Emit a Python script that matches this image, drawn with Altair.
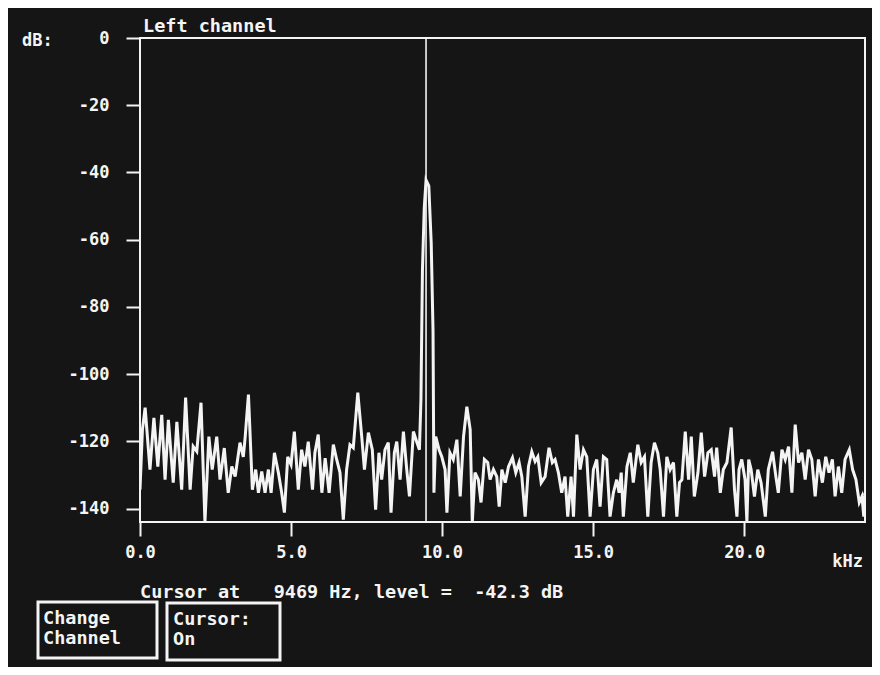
import altair as alt
import pandas as pd

# ---------------- data ----------------
freq_khz = [
    0.00, 0.08, 0.17, 0.33, 0.46, 0.59, 0.72, 0.83, 0.94, 1.10, 1.22, 1.38, 1.51, 1.66, 1.76, 1.88,
    2.02, 2.15, 2.28, 2.39, 2.54, 2.65, 2.79, 2.92, 3.04, 3.15, 3.31, 3.42, 3.48, 3.59, 3.72, 3.83,
    3.92, 4.03, 4.14, 4.25, 4.34, 4.45, 4.58, 4.69, 4.78, 4.89, 5.00, 5.11, 5.24, 5.35, 5.46, 5.57,
    5.71, 5.79, 5.90, 6.02, 6.13, 6.26, 6.40, 6.51, 6.62, 6.73, 6.84, 6.95, 7.06, 7.21, 7.34, 7.43,
    7.56, 7.69, 7.80, 7.91,
    8.00, 8.11, 8.22, 8.31, 8.42, 8.50, 8.61, 8.72, 8.83, 8.92, 9.05, 9.16, 9.25, 9.30, 9.35, 9.41,
    9.469, 9.56, 9.64, 9.70, 9.73, 9.79, 9.90, 9.99, 10.10, 10.16, 10.26, 10.37, 10.49, 10.60, 10.71,
    10.82, 10.93, 11.00, 11.09, 11.20, 11.29, 11.40, 11.51, 11.59, 11.70, 11.81, 11.89,
    11.98, 12.09, 12.20, 12.33, 12.44, 12.55, 12.64, 12.75, 12.86, 12.97, 13.08, 13.17, 13.28, 13.41,
    13.54, 13.65, 13.74, 13.85, 13.96, 14.07, 14.16, 14.27, 14.35, 14.46, 14.57, 14.68, 14.79, 14.90,
    15.01, 15.12, 15.23, 15.34, 15.45, 15.56, 15.67, 15.78, 15.86,
    15.93, 16.00, 16.12, 16.23, 16.33, 16.48, 16.59, 16.70, 16.81, 16.92, 17.03, 17.14, 17.22, 17.33,
    17.44, 17.55, 17.66, 17.77, 17.86, 17.94, 18.05, 18.16, 18.25, 18.35, 18.47, 18.58, 18.69, 18.80,
    18.91, 19.02, 19.09, 19.21, 19.31, 19.43, 19.57, 19.68, 19.76, 19.83,
    19.92, 20.03, 20.09, 20.15, 20.23, 20.34, 20.45, 20.56, 20.70, 20.80, 20.94, 21.05, 21.13, 21.25,
    21.36, 21.47, 21.58, 21.69, 21.80, 21.91, 22.02, 22.13, 22.24, 22.35, 22.46, 22.59, 22.70, 22.81,
    22.92, 23.01, 23.12, 23.23, 23.34, 23.48, 23.59, 23.70, 23.81, 23.90, 23.96, 24.00,
]

level_db = [
    -134.4, -116.5, -110.0, -128.4, -113.0, -127.5, -112.1, -131.4, -113.6, -132.3, -114.2, -134.4, -107.0, -134.4, -121.5, -123.0,
    -108.5, -144.0, -118.6, -128.4, -118.6, -131.4, -122.0, -135.3, -127.5, -130.5, -120.4, -124.6, -118.9, -106.1, -134.4, -128.4,
    -135.3, -129.0, -135.3, -128.4, -135.3, -123.4, -129.3, -135.3, -141.2, -124.6, -126.9, -117.1, -134.4, -122.5, -127.5, -120.1,
    -134.4, -123.4, -118.0, -135.3, -125.0, -135.3, -121.0, -125.4, -129.3, -143.3, -128.4, -121.0, -121.9, -105.5, -118.6, -128.4,
    -117.4, -122.5, -140.3, -123.4,
    -131.4, -122.5, -120.4, -141.2, -123.4, -120.1, -131.4, -117.1, -128.4, -136.4, -117.1, -120.1, -122.5, -107.6, -69.0, -50.5,
    -42.3, -44.0, -61.0, -87.0, -135.3, -118.6, -122.5, -124.6, -128.4, -141.2, -123.4, -125.4, -119.5, -136.4, -118.6,
    -109.7, -116.5, -144.0, -129.3, -131.4, -138.2, -125.4, -126.3, -131.4, -128.4, -130.5, -139.4,
    -128.4, -132.3, -127.5, -124.9, -129.3, -126.3, -130.5, -142.4, -127.5, -123.1, -126.0, -124.6, -132.3, -130.5,
    -121.9, -126.3, -125.4, -129.3, -135.3, -130.5, -142.4, -130.5, -142.4, -118.0, -128.4, -122.5, -124.6, -142.4,
    -128.4, -125.4, -139.4, -124.6, -125.4, -142.4, -135.3, -131.4, -135.3,
    -129.3, -142.4, -127.5, -123.4, -132.3, -121.0, -126.3, -124.6, -142.4, -126.3, -120.4, -123.4, -128.4, -142.4,
    -124.6, -128.4, -126.3, -142.4, -132.3, -131.4, -117.1, -131.4, -118.6, -136.4, -129.3, -117.4, -130.5, -123.4,
    -122.5, -130.5, -121.9, -135.3, -128.4, -126.3, -115.9, -134.4, -142.4, -128.4,
    -125.4, -131.4, -144.0, -125.4, -128.4, -136.4, -128.4, -132.3, -142.4, -128.4, -123.1, -130.5, -135.3, -122.5,
    -125.4, -121.6, -135.3, -115.0, -126.3, -123.4, -131.4, -122.5, -125.4, -136.4, -125.4, -132.3, -124.6, -129.3,
    -125.4, -136.4, -127.5, -135.3, -125.4, -122.5, -128.4, -131.4, -138.2, -136.4, -142.4, -135.3,
]

y_ticks = [0, -20, -40, -60, -80, -100, -120, -140]
x_ticks = [0, 5, 10, 15, 20]
cursor_khz = [9.469]
cursor_hz = 9469
cursor_level = -42.3

NB = "\u00a0"
title_text = "Left channel"
unit_y = "dB:"
unit_x = "kHz"
status_text = ("Cursor at   " + str(cursor_hz) + " Hz, level =  " + str(cursor_level) + " dB").replace(" ", NB)
button1 = ["Change", "Channel"]
button2 = ["Cursor:", "On"]

# ---------------- styling ----------------
FONT = "DejaVu Sans Mono"
FG = "#f4f4f4"
BG = "#151515"
FS = 17
TS = 18.5

spec = pd.DataFrame({"f": freq_khz, "db": level_db, "i": list(range(len(freq_khz)))})
cur = pd.DataFrame({"f": cursor_khz, "top": [0], "bot": [-144]})
dummy = pd.DataFrame({"a": [0]})

xscale = alt.Scale(domain=[0, 24], nice=False, zero=False)
yscale = alt.Scale(domain=[-144, 0], nice=False, zero=False)

xaxis = alt.Axis(values=x_ticks, format=".1f", title=None, grid=False, domain=False,
                 labelFlush=False,
                 tickSize=14, tickWidth=2, tickColor=FG, labelColor=FG, labelFont=FONT,
                 labelFontSize=FS, labelFontWeight="bold", labelPadding=8)
yaxis = alt.Axis(values=y_ticks, title=None, grid=False, domain=False,
                 labelExpr="'' + datum.value", labelFlush=False,
                 tickSize=14, tickWidth=2, tickColor=FG, labelColor=FG, labelFont=FONT,
                 labelFontSize=FS, labelFontWeight="bold", labelPadding=17)

line = alt.Chart(spec).mark_line(color=FG, strokeWidth=3, clip=True, strokeJoin="miter").encode(
    x=alt.X("f:Q", scale=xscale, axis=xaxis),
    y=alt.Y("db:Q", scale=yscale, axis=yaxis),
    order=alt.Order("i:Q"),
)

cursor = alt.Chart(cur).mark_rule(color=FG, strokeWidth=1.6).encode(
    x=alt.X("f:Q", scale=xscale),
    y=alt.Y("top:Q", scale=yscale),
    y2="bot:Q",
)


def txt(s, x, y, align="left", size=TS):
    return alt.Chart(dummy).mark_text(font=FONT, fontSize=size, fontWeight="bold", color=FG,
                                      align=align, baseline="alphabetic").encode(
        x=alt.value(x), y=alt.value(y), text=alt.value(s))


def box(x1, x2, y1, y2):
    return alt.Chart(dummy).mark_rect(fill=BG, fillOpacity=0, stroke=FG, strokeWidth=3).encode(
        x=alt.value(x1), x2=alt.value(x2), y=alt.value(y1), y2=alt.value(y2))


layers = [
    line,
    cursor,
    txt(title_text, 3, -6),
    txt(unit_y, -118, 8, size=FS),
    txt(unit_x, 723, 529, align="right", size=FS),
    txt(status_text, 0, 560),
    box(-102, 17, 564, 620),
    box(27, 140, 565, 622),
    txt(button1[0], -97, 586),
    txt(button1[1], -97, 606),
    txt(button2[0], 33, 587),
    txt(button2[1], 33, 607),
]

chart = alt.layer(*layers).properties(
    width=725, height=484,
    padding={"left": 132, "top": 30, "right": 7, "bottom": 145},
    autosize=alt.AutoSizeParams(type="none"),
    background=BG,
).configure_view(stroke=FG, strokeWidth=2, fill=BG)

chart.save("out.html", embed_options={"renderer": "svg", "actions": False})
